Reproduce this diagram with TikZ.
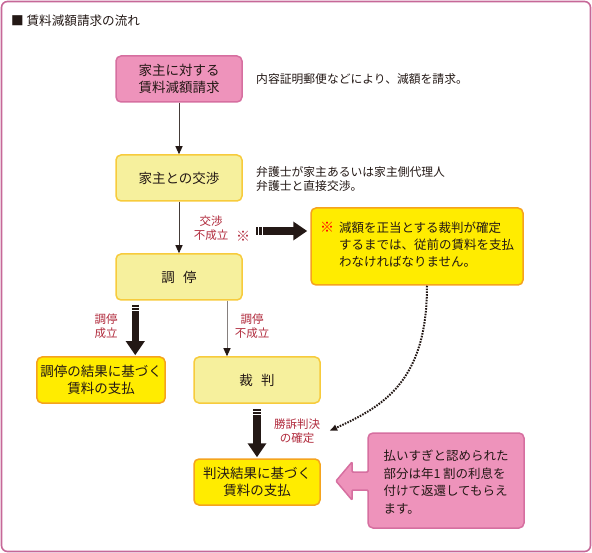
\documentclass[tikz,border=0pt]{standalone}
\usepackage{fontspec}
\setmainfont{Noto Sans CJK JP}
\usetikzlibrary{arrows.meta,calc}
\definecolor{framepink}{RGB}{198,104,152}
\definecolor{mypink}{RGB}{238,147,187}
\definecolor{pinkline}{RGB}{214,111,160}
\definecolor{paleyellow}{RGB}{246,240,157}
\definecolor{paleline}{RGB}{247,203,60}
\definecolor{myyellow}{RGB}{255,236,0}
\definecolor{orangeline}{RGB}{245,163,30}
\definecolor{darkred}{RGB}{176,42,60}
\definecolor{myblack}{RGB}{35,24,21}
\tikzset{>=latex,
  box/.style={rounded corners=5pt, minimum width=126pt, minimum height=46pt, line width=1.5pt, align=center, text=myblack, font=\fontsize{13.5}{16.5}\selectfont},
  pinkbox/.style={box, fill=mypink, draw=pinkline},
  palebox/.style={box, fill=paleyellow, draw=paleline},
  brightbox/.style={box, fill=myyellow, draw=orangeline},
  lbl/.style={align=center, text=darkred, inner sep=1pt, font=\fontsize{11.5}{14}\selectfont},
  note/.style={anchor=west, align=left, text=myblack, inner sep=0pt, font=\fontsize{11.8}{14.5}\selectfont},
  thinarrow/.style={line width=0.9pt, draw=myblack!85, -{Triangle[length=8pt,width=7pt,color=myblack]}},
  bigarrow/.style={line width=7.5pt, draw=myblack, line cap=butt, dash pattern=on 2pt off 1pt on 2.5pt off 1pt on 300pt off 1pt, -{Triangle[length=14pt,width=18pt]}},
  dotline/.style={line width=2pt, draw=myblack, dash pattern=on 1.6pt off 1.2pt, -{Latex[length=8pt,width=7pt]}}
}
\begin{document}
\begin{tikzpicture}[x=1pt,y=-1pt]
\useasboundingbox (0,0) rectangle (592,553);
\draw[framepink, line width=1.6pt, rounded corners=6pt] (1.5,1.5) rectangle (590.5,551.5);
\node[anchor=west, inner sep=0pt, text=myblack, font=\fontsize{12.6}{15}\selectfont] (title) at (11,21) {■ 賃料減額請求の流れ};

\node[pinkbox] (seikyu) at (179,79) {家主に対する\\賃料減額請求};
\node[palebox] (kosho) at (179,178) {家主との交渉};
\node[palebox] (chotei) at (179,277) {調\hspace{0.6em}停};
\node[brightbox] (kekka1) at (101,380) {調停の結果に基づく\\賃料の支払};
\node[palebox] (saiban) at (257,380) {裁\hspace{0.6em}判};
\node[brightbox] (kekka2) at (257,482) {判決結果に基づく\\賃料の支払};
\node[box, fill=myyellow, draw=orangeline, minimum width=212pt, minimum height=77pt, font=\fontsize{12.5}{17}\selectfont] (chui) at (417,246.5)
  {\begin{tabular}{@{}l@{\hspace{5pt}}l@{}}\textcolor{red}{\fontsize{14}{17}\selectfont ※} & 減額を正当とする裁判が確定\\ & するまでは、従前の賃料を支払\\ & わなければなりません。\end{tabular}};

\node[note] (n1) at (256,79) {内容証明郵便などにより、減額を請求。};
\node[note] (n2) at (256,179) {弁護士が家主あるいは家主側代理人\\弁護士と直接交渉。};

\node[lbl] (kl) at (211,228) {交渉\\不成立};
\node[lbl, font=\fontsize{14}{14}\selectfont] (kk) at (243,236) {※};
\node[lbl] (cs) at (106,326) {調停\\成立};
\node[lbl] (cf) at (252,326) {調停\\不成立};
\node[lbl] (shoso) at (297,431) {勝訴判決\\の確定};

\fill[mypink, draw=pinkline, line width=1.5pt, rounded corners=5pt] (368,433) -- (524,433) -- (524,528) -- (368,528) [rounded corners=1pt] -- (368,490) -- (352,490) -- (352,500) -- (336,481) -- (352,462) -- (352,472) -- (368,472) [rounded corners=5pt] -- cycle;
\node[align=left, text=myblack, font=\fontsize{12.5}{17.5}\selectfont] (harai) at (446,482) {払いすぎと認められた\\部分は年1 割の利息を\\付けて返還してもらえ\\ます。};

\draw[thinarrow] (seikyu) -- (kosho);
\draw[thinarrow] (kosho) -- (chotei);
\coordinate (cfx) at ($(saiban.north)+(-30,0)$);
\draw[thinarrow, draw=myblack!55] (cfx |- chotei.south) -- (cfx);
\coordinate (csx) at ($(chotei.south west)+(20,4)$);
\draw[bigarrow, shorten >=1pt] (csx) -- (csx |- kekka1.north);
\draw[bigarrow, shorten >=1pt] ([yshift=-5pt]saiban.south) -- (kekka2.north);
\coordinate (kstart) at (256,231);
\draw[bigarrow, shorten >=3pt] (kstart) -- (kstart -| chui.west);
\draw[dotline] ([xshift=10pt]chui.south) .. controls +(0,95) and +(55,-25) .. ([xshift=8pt]shoso.east);
\end{tikzpicture}
\end{document}
